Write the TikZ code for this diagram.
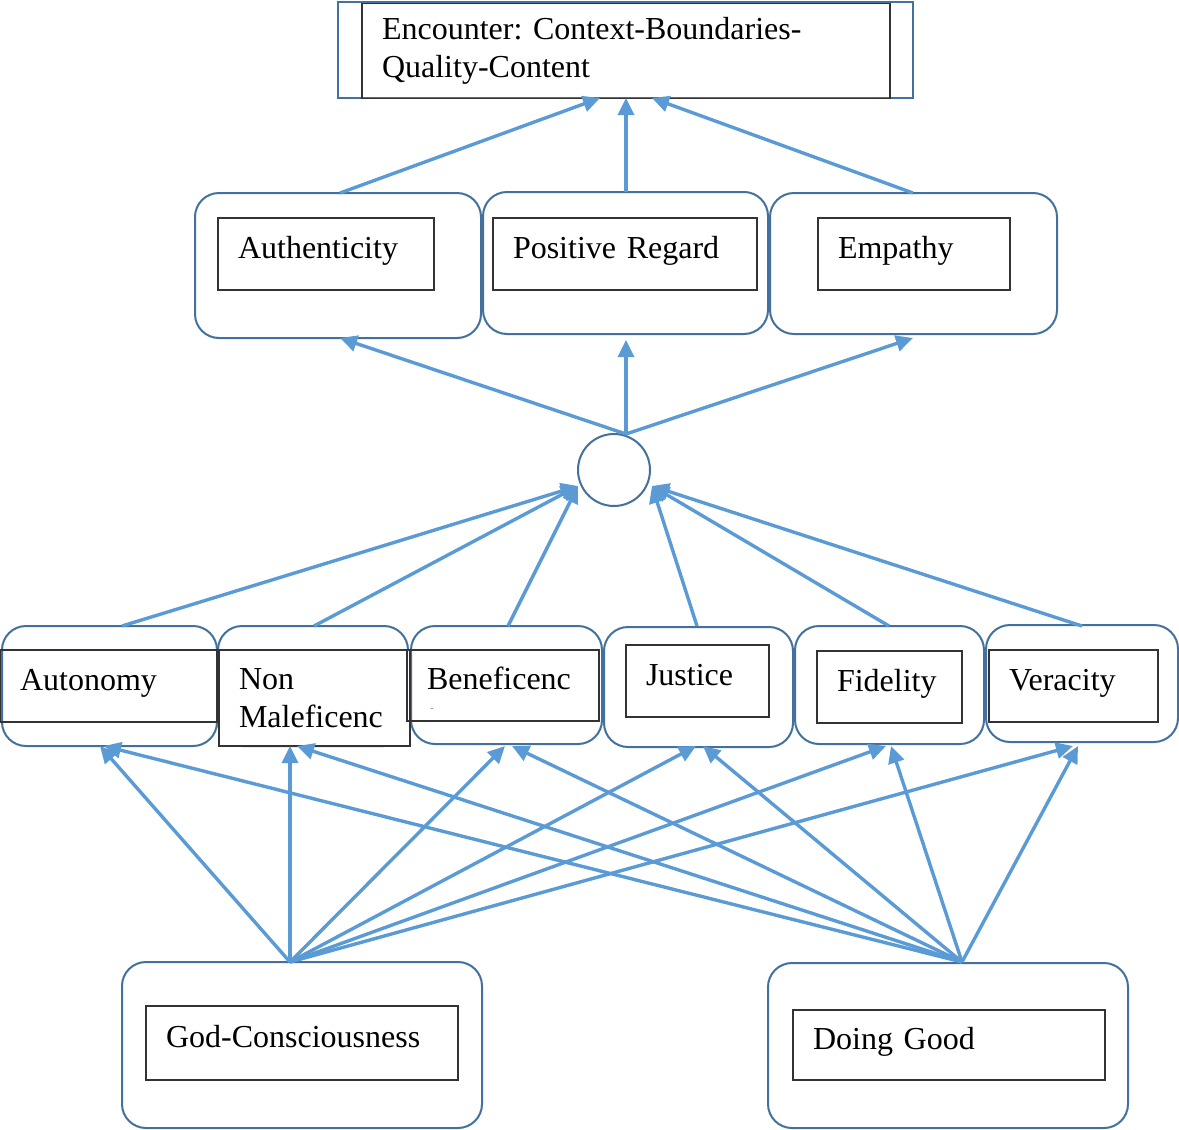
\documentclass[tikz,border=0pt]{standalone}
\usepackage{fontspec}
\setmainfont{Liberation Serif}
\usepackage{tikz}
\usetikzlibrary{arrows.meta,positioning}
\definecolor{linkblue}{RGB}{91,155,213}
\definecolor{boxblue}{RGB}{65,113,156}
\frenchspacing
\tikzset{
  frame/.style={draw=boxblue,line width=1pt,inner sep=0pt},
  outer/.style={draw=boxblue,line width=1pt,rounded corners=12pt,inner sep=0pt},
  inner/.style={draw=black!80,line width=0.6pt,inner xsep=10pt,inner ysep=0pt,align=left},
  oneline/.style={text height=11pt,text depth=7pt},
  hub/.style={circle,draw=boxblue,line width=1pt,minimum size=36pt,inner sep=0pt},
  every node/.style={font=\fontsize{16}{19}\selectfont}
}
\tikzstyle{link} = [draw=linkblue,line width=1.7pt,-{Triangle[length=8.5pt,width=8pt]}]

\begin{document}
\begin{tikzpicture}[x=0.5pt,y=-0.5pt]
  \useasboundingbox (0,0) rectangle (1179,1130);
  % top
  \node[frame,minimum width=287.5pt,minimum height=48pt] (enc-o) at (625.5,50) {};
  \node[inner,minimum height=47.5pt,text width=244pt] (enc) at (626,51)
    {Encounter: Context-Boundaries-\\Quality-Content};
  % conditions
  \node[outer,minimum width=143pt,minimum height=72.5pt] (auth-o) at (338,265.5) {};
  \node[outer,minimum width=142.5pt,minimum height=71pt] (pos-o) at (625.5,263) {};
  \node[outer,minimum width=143.5pt,minimum height=70.5pt] (emp-o) at (913.5,263.5) {};
  \node[inner,oneline,minimum height=36pt,text width=88pt] (auth) at (326,254) {Authenticity};
  \node[inner,oneline,minimum height=36pt,text width=112pt] (pos) at (625,254) {Positive Regard};
  \node[inner,oneline,minimum height=36pt,text width=76pt] (emp) at (914,254) {Empathy};
  \node[hub] (hub) at (614,470) {};
  % principles
  \node[outer,minimum width=107.5pt,minimum height=60pt] (aut-o) at (109.5,686) {};
  \node[outer,minimum width=95pt,minimum height=60pt] (non-o) at (313,686) {};
  \node[outer,minimum width=95.5pt,minimum height=59pt] (ben-o) at (506.5,685) {};
  \node[outer,minimum width=94.5pt,minimum height=60pt] (jus-o) at (698.5,687) {};
  \node[outer,minimum width=94.5pt,minimum height=59pt] (fid-o) at (889.5,685) {};
  \node[outer,minimum width=96pt,minimum height=58.5pt] (ver-o) at (1082,683.5) {};
  \node[inner,oneline,minimum height=36pt,text width=88.5pt] (aut) at (108.5,686) {Autonomy};
  \node[inner,fill=white,minimum height=48pt,text width=75.5pt] (non) at (314.5,698) {Non\\Maleficenc};
  \node[inner,oneline,minimum height=35.5pt,text width=76pt] (ben) at (503,685.5) {Beneficenc};
  \node[font=\fontsize{5}{5}\selectfont,text=gray,inner sep=0pt] (ben-dash) at (432,710) {-};
  \node[inner,oneline,minimum height=36pt,text width=51.5pt] (jus) at (697.5,681) {Justice};
  \node[inner,oneline,minimum height=36pt,text width=52.5pt] (fid) at (889.5,687) {Fidelity};
  \node[inner,oneline,minimum height=36pt,text width=64.5pt] (ver) at (1073.5,686) {Veracity};
  % sources
  \node[outer,minimum width=180pt,minimum height=83pt] (god-o) at (302,1045) {};
  \node[outer,minimum width=180pt,minimum height=82.5pt] (dg-o) at (948,1045.5) {};
  \node[inner,oneline,minimum height=37pt,text width=136pt] (god) at (302,1043) {God-Consciousness};
  \node[inner,oneline,minimum height=35pt,text width=136pt] (dg) at (949,1045) {Doing Good};

  % connector ends
  \coordinate (enc-l) at (600,98);
  \coordinate (enc-m) at (626,98);
  \coordinate (enc-r) at (652,98);
  \coordinate (hub-top) at (626,434);
  \coordinate (hub-l) at (578,486);
  \coordinate (hub-r) at (652,486);
  \coordinate (god-top) at (290,962);
  \coordinate (dg-top) at (962,962);

  % into the encounter
  \draw[link] (340,193) coordinate (auth-t) -- (enc-l);
  \draw[link] (626,192) coordinate (pos-t) -- (enc-m);
  \draw[link] (913,193) coordinate (emp-t) -- (enc-r);
  % out of the hub
  \draw[link] (hub-top) -- (340,338) coordinate (auth-b);
  \draw[link] (hub-top) -- (626,340) coordinate (pos-b);
  \draw[link] (hub-top) -- (913,338) coordinate (emp-b);
  % into the hub
  \foreach \n/\x/\h in {aut/122/l,non/314/l,ben/508/l,jus/697/r,fid/889/r,ver/1082/r}
    \draw[link] (\x,626) coordinate (\n-t) -- (hub-\h);
  % from the two sources
  \foreach \n/\x/\y in {aut/100/104,non/290/297,ben/505/512,jus/696/703,fid/886/891,ver/1073/1078}{
    \draw[link] (god-top) -- (\x,746) coordinate (\n-bl);
    \draw[link] (dg-top) -- (\y,746) coordinate (\n-br);
  }
\end{tikzpicture}
\end{document}
